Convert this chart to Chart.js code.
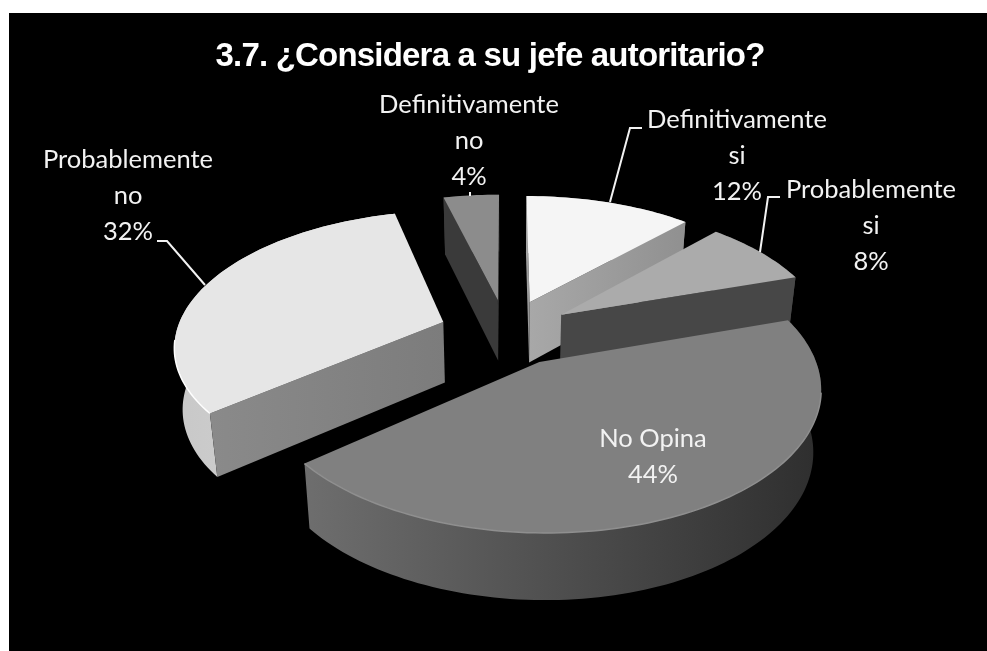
<!DOCTYPE html>
<html>
<head>
<meta charset="utf-8">
<title>3.7. ¿Considera a su jefe autoritario?</title>
<script src="https://cdn.jsdelivr.net/npm/chart.js@4/dist/chart.umd.min.js"></script>
<style>
    html, body { margin: 0; background: #fff; }
    canvas { display: block; }
</style>
</head>
<body>
<canvas id="pie" width="987" height="651"></canvas>
<script>
const chartTitle = '3.7. ¿Considera a su jefe autoritario?';
const categories = ['Definitivamente si', 'Probablemente si', 'No Opina', 'Probablemente no', 'Definitivamente no'];
const values = [12, 8, 44, 32, 4];

// slice styling, same order as categories
const topColors = ['#f5f5f5', '#ababab', '#808080', '#e6e6e6', '#8c8c8c'];
const wallFrom = ['#a8a8a8', '#474747', '#2e2e2e', '#8a8a8a', '#3a3a3a'];
const wallTo = ['#909090', '#474747', '#2e2e2e', '#7c7c7c', '#3a3a3a'];
const rimFrom = ['#a0a0a0', '#474747', '#6e6e6e', '#c8c8c8', '#3a3a3a'];
const rimTo = ['#8a8a8a', '#474747', '#2e2e2e', '#d8d8d8', '#3a3a3a'];
const edgeColors = [null, null, '#8f8f8f', '#ffffff', null];
const edgeBelow = [0, 0, 60, 5, 0];
const paintOrder = [4, 0, 1, 3, 2];

// label layout: text rows, centre x, first baseline, leader polyline
const labelRows = [['Definitivamente', 'si'], ['Probablemente', 'si'], ['No Opina'], ['Probablemente', 'no'], ['Definitivamente', 'no']];
const labelX = [737, 871, 653, 128, 469];
const labelY = [128, 198, 447, 168, 113];
const labelRowGap = 36;
const leaders = [
    [[642, 128], [630, 128], [610, 202]],
    [[780, 197], [768, 197], [760, 252]],
    null,
    [[157, 241], [167, 241], [205, 285]],
    [[470, 192], [470, 196]]
];

// projection of the pie plane onto the page
const view = { x: 506, y: 332, rx: 267, ry: 132.3, persp: 0.162, explode: 0.25, depth: 61 };

function project(u, v) {
    const w = 1 + view.persp * v;
    return [view.x + view.rx * u / w, view.y - view.ry * v / w];
}

// bottom edge of a wall: a little longer towards the viewer, drawn in towards the centre
function down(p) {
    return [p[0] + (view.x - p[0]) * 0.025, p[1] + view.depth * (1 + (p[1] - view.y) / 2000)];
}

function tracePath(ctx, pts) {
    ctx.beginPath();
    pts.forEach((p, i) => i ? ctx.lineTo(p[0], p[1]) : ctx.moveTo(p[0], p[1]));
    ctx.closePath();
}

function sideGradient(ctx, pts, from, to) {
    const xs = pts.map(p => p[0]);
    const grad = ctx.createLinearGradient(Math.min(...xs), 0, Math.max(...xs), 0);
    grad.addColorStop(0, from);
    grad.addColorStop(1, to);
    return grad;
}

function paintSlice(ctx, arc, i) {
    const { startAngle, endAngle } = arc.getProps(['startAngle', 'endAngle']);
    const mid = (startAngle + endAngle) / 2;
    const ou = view.explode * Math.cos(mid);
    const ov = -view.explode * Math.sin(mid);

    const rim = [];
    const steps = Math.max(8, Math.round((endAngle - startAngle) * 40));
    for (let s = 0; s <= steps; s++) {
        const a = startAngle + (endAngle - startAngle) * s / steps;
        rim.push(project(ou + Math.cos(a), ov - Math.sin(a)));
    }
    const apex = project(ou, ov);
    const first = rim[0];
    const last = rim[rim.length - 1];

    // curved wall first, the straight walls sit in front of it
    ctx.fillStyle = sideGradient(ctx, rim, rimFrom[i], rimTo[i]);
    tracePath(ctx, rim.concat(rim.map(down).reverse()));
    ctx.fill();

    // a straight wall only shows when it faces the viewer
    const facing = [];
    if (first[0] < apex[0]) facing.push(first);
    if (last[0] > apex[0]) facing.push(last);
    facing.forEach(p => {
        const quad = [apex, p, down(p), down(apex)];
        ctx.fillStyle = sideGradient(ctx, quad, wallFrom[i], wallTo[i]);
        tracePath(ctx, quad);
        ctx.fill();
    });

    // top face
    ctx.fillStyle = arc.options.backgroundColor;
    tracePath(ctx, [apex].concat(rim));
    ctx.fill();

    if (edgeColors[i]) {
        ctx.strokeStyle = edgeColors[i];
        ctx.lineWidth = 1.5;
        ctx.beginPath();
        rim.filter(p => p[1] > view.y + edgeBelow[i]).forEach((p, n) => n ? ctx.lineTo(p[0], p[1]) : ctx.moveTo(p[0], p[1]));
        ctx.stroke();
    }
}

class TiltedPieController extends Chart.PieController {
    draw() {
        const ctx = this.chart.ctx;
        const arcs = this.getMeta().data;
        ctx.save();
        paintOrder.forEach(i => paintSlice(ctx, arcs[i], i));
        ctx.restore();
    }
}
TiltedPieController.id = 'tiltedPie';
TiltedPieController.defaults = Chart.PieController.defaults;
TiltedPieController.overrides = Chart.PieController.overrides;
Chart.register(TiltedPieController);

const panel = {
    id: 'panel',
    beforeDraw(chart) {
        const ctx = chart.ctx;
        ctx.fillStyle = '#000';
        ctx.fillRect(9, 13, chart.width - 9, chart.height - 13);
        ctx.letterSpacing = '-0.8px'; // tightens the title
    }
};

const sliceLabels = {
    id: 'sliceLabels',
    afterDraw(chart) {
        const ctx = chart.ctx;
        ctx.save();
        ctx.letterSpacing = '0px';
        ctx.strokeStyle = '#f2f2f2';
        ctx.lineWidth = 2;
        leaders.forEach(line => {
            if (!line) return;
            ctx.beginPath();
            line.forEach((p, n) => n ? ctx.lineTo(p[0], p[1]) : ctx.moveTo(p[0], p[1]));
            ctx.stroke();
        });
        ctx.fillStyle = '#f2f2f2';
        ctx.font = '25.5px Lato';
        ctx.textAlign = 'center';
        categories.forEach((c, i) => {
            const rows = labelRows[i].concat(values[i] + '%');
            rows.forEach((t, r) => ctx.fillText(t, labelX[i], labelY[i] + r * labelRowGap));
        });
        ctx.restore();
    }
};

new Chart(document.getElementById('pie'), {
    type: 'tiltedPie',
    data: {
        labels: categories,
        datasets: [{
            data: values,
            backgroundColor: topColors,
            borderWidth: 0,
            clip: false
        }]
    },
    options: {
        responsive: false,
        animation: false,
        layout: { padding: { top: 37, right: 7, bottom: 20 } },
        plugins: {
            legend: { display: false },
            tooltip: { enabled: false },
            title: {
                display: true,
                text: chartTitle,
                color: '#fff',
                font: { family: 'Liberation Sans', size: 33, weight: 'bold' },
                padding: 0
            }
        }
    },
    plugins: [panel, sliceLabels]
});
</script>
</body>
</html>
